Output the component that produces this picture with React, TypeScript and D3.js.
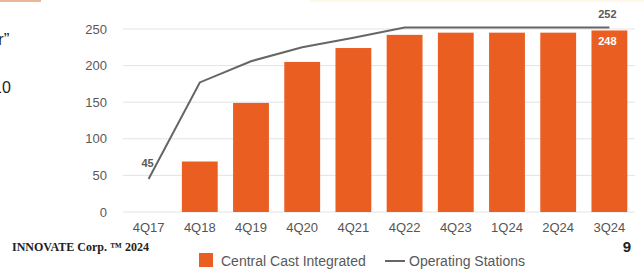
import React, { useEffect, useRef } from "react";
import * as d3 from "d3";

const quarters = ["4Q17", "4Q18", "4Q19", "4Q20", "4Q21", "4Q22", "4Q23", "1Q24", "2Q24", "3Q24"];
const integrated = [null, 69, 149, 205, 224, 242, 245, 245, 245, 248];
const stations = [45, 177, 206, 225, 238, 252, 252, 252, 252, 252];
const yTicks = [0, 50, 100, 150, 200, 250];

const W = 644;
const H = 273;

const App = () => {
    const ref = useRef<SVGSVGElement>(null);

    useEffect(() => {
        const svg = d3.select(ref.current);
        svg.selectAll("*").remove();
        const font = "'Liberation Sans', Arial, sans-serif";
        const grey = "#595959";

        svg.append("rect").attr("width", W).attr("height", H).attr("fill", "#fff");
        // slide decorations cut off at the edges
        svg.append("rect").attr("x", 0).attr("y", 0).attr("width", 41).attr("height", 2).attr("fill", "#ebb597");
        svg.append("rect").attr("x", 310).attr("y", 0).attr("width", 334).attr("height", 2).attr("fill", "#fcf7e6");
        svg.append("text").attr("x", -2).attr("y", 45).attr("font-family", font).attr("font-size", 17)
            .attr("fill", "#222").text("r\u201d");
        svg.append("text").attr("x", -7).attr("y", 93).attr("font-family", font).attr("font-size", 16)
            .attr("fill", "#222").text("10");

        const x = d3.scaleBand().domain(quarters).range([123, 635]).paddingInner(0.3).paddingOuter(0.15);
        const y = d3.scaleLinear().domain([0, 250]).range([212, 29]);

        const g = svg.append("g");
        g.selectAll("line.grid").data(yTicks).enter().append("line")
            .attr("x1", 123).attr("x2", 635)
            .attr("y1", d => y(d)).attr("y2", d => y(d))
            .attr("stroke", "#e3e3e3").attr("stroke-width", 1);

        g.selectAll("text.ytick").data(yTicks).enter().append("text")
            .attr("x", 107).attr("y", d => y(d) + 4.5)
            .attr("text-anchor", "end").attr("font-family", font).attr("font-size", 13)
            .attr("fill", grey).text(d => d);

        const bars = quarters.map((q, i) => ({ q, v: integrated[i] })).filter(d => d.v !== null);
        g.selectAll("rect.bar").data(bars).enter().append("rect")
            .attr("x", d => x(d.q)!)
            .attr("width", x.bandwidth())
            .attr("y", d => y(d.v as number))
            .attr("height", d => y(0) - y(d.v as number))
            .attr("fill", "#eb5e22");

        g.selectAll("text.xtick").data(quarters).enter().append("text")
            .attr("x", d => x(d)! + x.bandwidth() / 2).attr("y", 232)
            .attr("text-anchor", "middle").attr("font-family", font).attr("font-size", 13)
            .attr("fill", "#555").text(d => d);

        const line = d3.line<number>()
            .x((d, i) => x(quarters[i])! + x.bandwidth() / 2)
            .y(d => y(d));
        g.append("path").datum(stations).attr("d", line)
            .attr("fill", "none").attr("stroke", "#666").attr("stroke-width", 2);

        const last = quarters.length - 1;
        const cx = (i: number) => x(quarters[i])! + x.bandwidth() / 2;
        g.append("text").attr("x", cx(0) - 1).attr("y", y(stations[0]) - 12)
            .attr("text-anchor", "middle").attr("font-family", font).attr("font-size", 11)
            .attr("font-weight", "bold").attr("fill", grey).text(stations[0]);
        g.append("text").attr("x", cx(last) - 2).attr("y", y(stations[last]) - 10)
            .attr("text-anchor", "middle").attr("font-family", font).attr("font-size", 11)
            .attr("font-weight", "bold").attr("fill", grey).text(stations[last]);
        g.append("text").attr("x", cx(last) - 2).attr("y", y(integrated[last] as number) + 15)
            .attr("text-anchor", "middle").attr("font-family", font).attr("font-size", 11)
            .attr("font-weight", "bold").attr("fill", "#fff").text(integrated[last] as number);

        // legend
        svg.append("rect").attr("x", 199).attr("y", 253).attr("width", 14).attr("height", 14).attr("fill", "#eb5e22");
        svg.append("text").attr("x", 221).attr("y", 266).attr("font-family", font).attr("font-size", 14)
            .attr("fill", grey).text("Central Cast Integrated");
        svg.append("line").attr("x1", 385).attr("x2", 405).attr("y1", 261).attr("y2", 261)
            .attr("stroke", "#666").attr("stroke-width", 2);
        svg.append("text").attr("x", 409).attr("y", 266).attr("font-family", font).attr("font-size", 14)
            .attr("fill", grey).text("Operating Stations");

        svg.append("text").attr("x", 12).attr("y", 251).attr("font-family", "'Liberation Serif', 'Times New Roman', serif")
            .attr("font-size", 12).attr("font-weight", "bold").attr("fill", "#222").text("INNOVATE Corp. \u2122 2024");
        svg.append("text").attr("x", 631).attr("y", 252).attr("text-anchor", "end").attr("font-family", font)
            .attr("font-size", 15).attr("font-weight", "bold").attr("fill", "#222").text("9");
    }, []);

    return (
        <svg ref={ref} width={W} height={H} style={{ position: "fixed", left: 0, top: 0, display: "block" }} />
    );
};

export default App;
